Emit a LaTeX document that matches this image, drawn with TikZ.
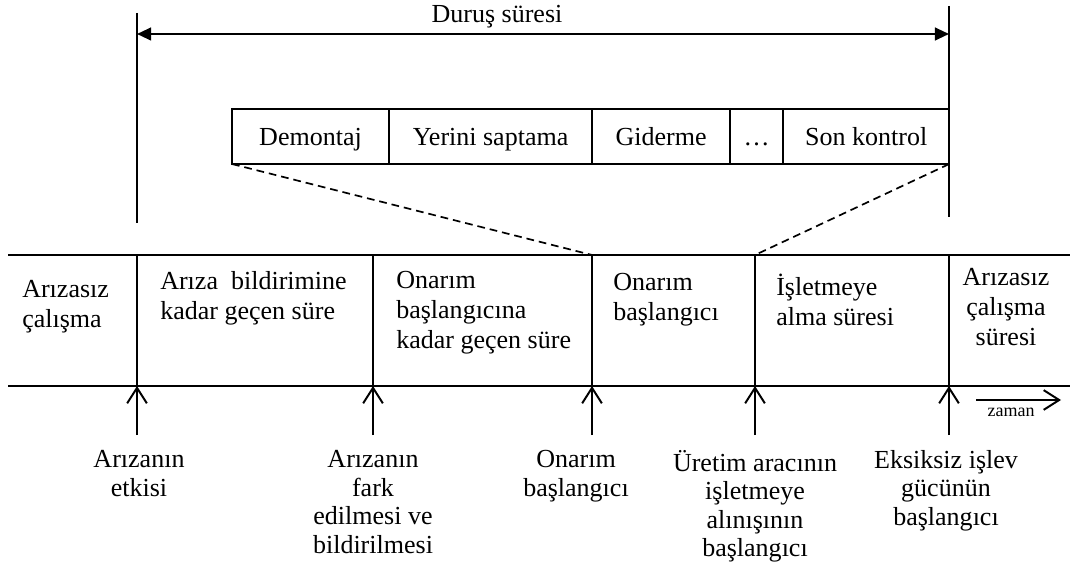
\documentclass[tikz,border=0pt]{standalone}
\usepackage{fontspec}
\setmainfont{Liberation Serif}
\usetikzlibrary{positioning,arrows.meta,calc}

\begin{document}
\begin{tikzpicture}[x=0.025cm, y=-0.025cm, font=\fontsize{18.5}{20.3}\selectfont]
        \tikzset{
            line/.style={draw=black, line width=1pt},
            stepcell/.style={draw=black, line width=1pt, minimum height=1.375cm, inner sep=0pt, outer sep=0pt,
                text height=15pt, text depth=2pt},
            zoomline/.style={draw=black, line width=1.2pt, dash pattern=on 5.5pt off 3.5pt},
            spanarrow/.style={line width=1.6pt, {Triangle[length=10pt,width=9pt]}-{Triangle[length=10pt,width=9pt]}},
            tickarrow/.style={line width=1.4pt, -{Straight Barb[length=11pt,width=14pt]}},
            spantext/.style={anchor=north west, inner sep=0pt, align=left, font=\fontsize{18.5}{21.3}\selectfont,
                execute at begin node=\strut},
            eventtext/.style={anchor=north, inner sep=0pt, align=center, execute at begin node=\strut}
        }
        \useasboundingbox (0,0) rectangle (1070,563);

        % Durus suresi
        \coordinate (durL) at (137,34);
        \coordinate (durR) at (949,34);
        \draw[line] (137,13) -- (137,223);
        \draw[line] (949,6) -- (949,217);
        \draw[spanarrow] (durL) -- (durR);
        \node (durlabel) at (497,17) {Duruş süresi};

        % onarim adimlari
        \node[stepcell, minimum width=3.925cm, anchor=north west] (demontaj) at (232,109) {Demontaj};
        \node[stepcell, minimum width=5.075cm, right=0pt of demontaj] (yerini) {Yerini saptama};
        \node[stepcell, minimum width=3.45cm, right=0pt of yerini] (giderme) {Giderme};
        \node[stepcell, minimum width=1.325cm, right=0pt of giderme] (dots) {…};
        \node[stepcell, minimum width=4.15cm, right=0pt of dots] (kontrol) {Son kontrol};

        % zaman ekseni
        \draw[line] (8,255) -- (1070,255);
        \draw[line] (8,386) -- (1070,386);
        \coordinate (t1top) at (137,255);  \coordinate (t1) at (137,386);
        \coordinate (t2top) at (373,255);  \coordinate (t2) at (373,386);
        \coordinate (t3top) at (592,255);  \coordinate (t3) at (592,386);
        \coordinate (t4top) at (755,255);  \coordinate (t4) at (755,386);
        \coordinate (t5top) at (949,255);  \coordinate (t5) at (949,386);
        \draw[line] (t1top) -- (t1);
        \draw[line] (t2top) -- (t2);
        \draw[line] (t3top) -- (t3);
        \draw[line] (t4top) -- (t4);
        \draw[line] (t5top) -- (t5);

        \draw[zoomline] (demontaj.south west) -- (t3top);
        \draw[zoomline] (kontrol.south east) -- (t4top);

        % sureler
        \node[spantext] (calisma) at (22,280) {Arızasız\\çalışma};
        \node[spantext] (bildirim) at (160,271) {Arıza\ \ bildirimine\\kadar geçen süre};
        \node[spantext] (baslangicina) at (396,271) {Onarım\\başlangıcına\\kadar geçen süre};
        \node[spantext] (onarim) at (613,273) {Onarım\\başlangıcı};
        \node[spantext] (isletme) at (776,274) {İşletmeye\\alma süresi};
        \node[eventtext, font=\fontsize{18.5}{21.3}\selectfont] (calismasuresi) at (1006,268) {Arızasız\\çalışma\\süresi};

        % olaylar
        \draw[tickarrow] ($(t1)+(0,49)$) -- (t1);
        \draw[tickarrow] ($(t2)+(0,49)$) -- (t2);
        \draw[tickarrow] ($(t3)+(0,49)$) -- (t3);
        \draw[tickarrow] ($(t4)+(0,49)$) -- (t4);
        \draw[tickarrow] ($(t5)+(0,49)$) -- (t5);
        \node[eventtext] (etki) at (139,450) {Arızanın\\etkisi};
        \node[eventtext] (fark) at (373,450) {Arızanın\\fark\\edilmesi ve\\bildirilmesi};
        \node[eventtext] (onarimbas) at (576,450) {Onarım\\başlangıcı};
        \node[eventtext] (alinis) at (755,450) {Üretim aracının\\işletmeye\\alınışının\\başlangıcı};
        \node[eventtext] (islev) at (946,450) {Eksiksiz işlev\\gücünün\\başlangıcı};

        \coordinate (zstart) at (976,400);
        \coordinate (zend) at (1061,400);
        \draw[tickarrow] (zstart) -- (zend);
        \node[font=\fontsize{12.8}{15}\selectfont] (zaman) at (1011,412) {zaman};
    \end{tikzpicture}
\end{document}
